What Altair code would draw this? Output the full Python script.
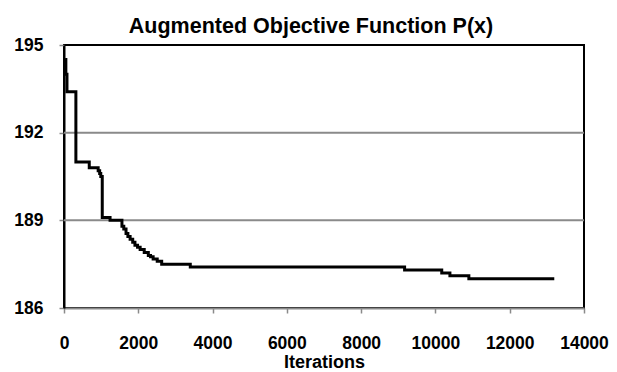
import altair as alt
import pandas as pd

# Step-wise best objective value vs. iteration
iterations = [30, 50, 80, 320, 680, 920, 960, 990, 1030, 1240,
              1560, 1610, 1670, 1720, 1780, 1850, 1910, 1980, 2050, 2160,
              2270, 2330, 2400, 2510, 2630, 3400, 9170, 10170, 10390, 10900,
              13200]
objective = [194.5, 194.0, 193.4, 191.0, 190.8, 190.7, 190.6, 190.5, 189.1, 189.0,
             188.8, 188.7, 188.55, 188.45, 188.35, 188.25, 188.15, 188.08, 188.0, 187.9,
             187.8, 187.75, 187.68, 187.6, 187.5, 187.4, 187.3, 187.2, 187.1, 187.0,
             187.0]

x_ticks = [0, 2000, 4000, 6000, 8000, 10000, 12000, 14000]
y_ticks = [186, 189, 192, 195]
grid_values = [189, 192]

df = pd.DataFrame({"Iterations": iterations, "P": objective})
grid_df = pd.DataFrame({"P": grid_values})

FONT = "Liberation Sans"
x_scale = alt.Scale(domain=[0, 14000], nice=False, zero=False)
y_scale = alt.Scale(domain=[186, 195], nice=False, zero=False)

y_axis = alt.Axis(
    values=y_ticks, title=None, grid=False, format="d",
    domainColor="black", domainWidth=2,
    tickColor="#8a8a8a", tickWidth=1.5, tickSize=5,
    labelFont=FONT, labelFontWeight="bold", labelFontSize=17.5, labelColor="black",
    labelPadding=16, labelFlush=False,
)

grid = alt.Chart(grid_df).mark_rule(color="#8a8a8a", strokeWidth=2).encode(
    y=alt.Y("P:Q", scale=y_scale, axis=y_axis)
)

line = alt.Chart(df).mark_line(
    color="black", strokeWidth=3, interpolate="step-after"
).encode(
    x=alt.X(
        "Iterations:Q", scale=x_scale,
        axis=alt.Axis(
            values=x_ticks, title="Iterations", grid=False, format="d",
            domainColor="#8a8a8a", domainWidth=2,
            tickColor="#8a8a8a", tickWidth=1.5, tickSize=5,
            labelFont=FONT, labelFontWeight="bold", labelFontSize=17.5, labelColor="black",
            labelPadding=21, labelFlush=False,
            titleFont=FONT, titleFontWeight="bold", titleFontSize=18, titleColor="black",
            titlePadding=2,
        ),
    ),
    y=alt.Y("P:Q", scale=y_scale, axis=y_axis),
)

chart = alt.layer(grid, line).properties(
    width=520,
    height=263,
    autosize="none",
    padding={"left": 64, "top": 45, "right": 33, "bottom": 64},
    title=alt.TitleParams(
        "Augmented Objective Function P(x)",
        font=FONT, fontWeight="bold", fontSize=21.5, color="black",
        anchor="middle", dx=-13, offset=0, dy=1,
    ),
).configure_view(stroke="black", strokeWidth=2)

chart.save("out.html", embed_options={"renderer": "svg", "actions": False})
